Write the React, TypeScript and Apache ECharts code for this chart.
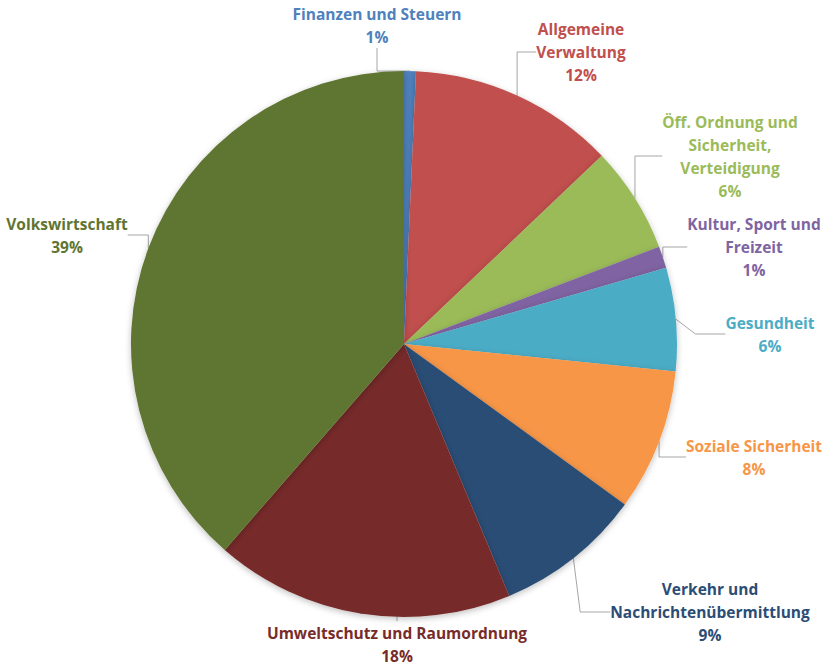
import React, { useEffect, useRef } from "react";
import * as echarts from "echarts";

const categories = [
  "Finanzen und Steuern",
  "Allgemeine\nVerwaltung",
  "Öff. Ordnung und\nSicherheit,\nVerteidigung",
  "Kultur, Sport und\nFreizeit",
  "Gesundheit",
  "Soziale Sicherheit",
  "Verkehr und\nNachrichtenübermittlung",
  "Umweltschutz und Raumordnung",
  "Volkswirtschaft",
];
const values = [0.7, 12.2, 6.3, 1.3, 6.1, 8.4, 8.7, 17.7, 38.6];
const colors = [
  "#4F81BD",
  "#C0504D",
  "#9BBB59",
  "#8064A2",
  "#4BACC6",
  "#F79646",
  "#2C4D75",
  "#772C2A",
  "#5F7530",
];
// label anchor positions (layout only)
const labelPos: [number, number][] = [
  [377, 25],
  [581, 52],
  [730, 156],
  [754, 247],
  [770, 334],
  [754, 457],
  [710, 612],
  [397, 644],
  [67, 235],
];

export default function App() {
  const ref = useRef<HTMLDivElement>(null);
  useEffect(() => {
    document.body.style.margin = "0";
    const chart = echarts.init(ref.current!, null, { renderer: "svg" });
    chart.setOption({
      animation: false,
      backgroundColor: "#ffffff",
      series: [
        {
          type: "pie",
          center: [404, 344],
          radius: 273,
          startAngle: 90,
          clockwise: true,
          avoidLabelOverlap: false,
          itemStyle: {
            shadowBlur: 6,
            shadowColor: "rgba(0,0,0,0.25)",
            shadowOffsetY: 2,
          },
          label: {
            show: true,
            position: "outside",
            fontFamily: "Open Sans",
            fontWeight: "bold",
            fontSize: 15.5,
            lineHeight: 23,
            align: "center",
            formatter: (p: any) => `${p.name}\n${Math.round(p.percent)}%`,
          },
          labelLine: {
            show: true,
            lineStyle: { color: "#A6A6A6", width: 1 },
          },
          labelLayout: (p: any) => {
            const pos = labelPos[p.dataIndex];
            return {
              x: pos[0],
              y: pos[1],
              align: "center",
              verticalAlign: "middle",
            };
          },
          data: categories.map((name, i) => ({
            name,
            value: values[i],
            itemStyle: { color: colors[i] },
            label: { color: colors[i] },
          })),
        },
      ],
    });
    return () => chart.dispose();
  }, []);
  return <div ref={ref} style={{ width: 827, height: 665 }} />;
}
